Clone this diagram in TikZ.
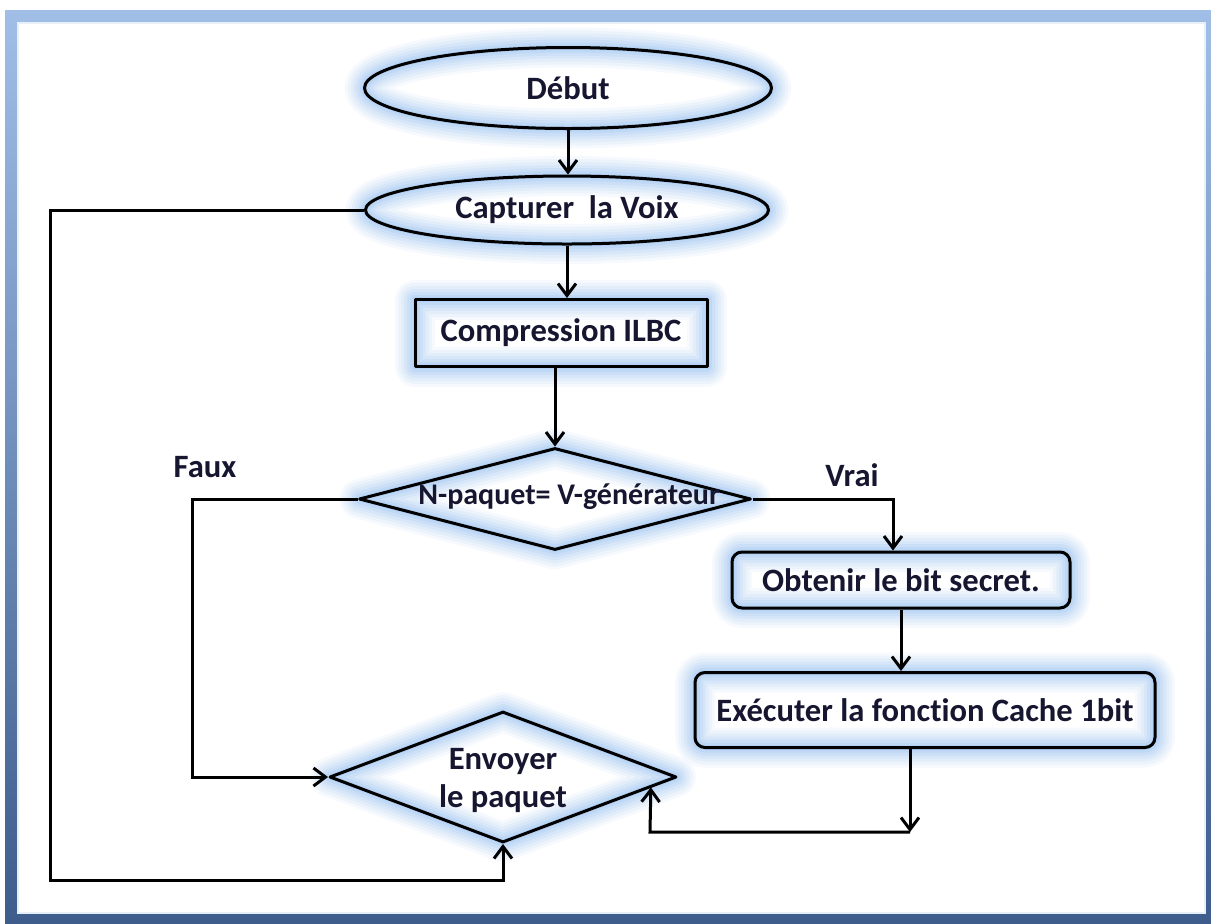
\documentclass[tikz,border=0pt]{standalone}
\usepackage{fontspec}
\setmainfont{Carlito}[Ligatures=NoCommon]
\usetikzlibrary{shapes.geometric,arrows.meta,calc}
\definecolor{glowc}{RGB}{128,180,240}
\definecolor{txtc}{RGB}{22,22,48}
\definecolor{frtop}{RGB}{160,190,230}
\definecolor{frbot}{RGB}{62,92,140}
\begin{document}
\begin{tikzpicture}[x=0.5pt,y=-0.5pt,
  glow/.style={line join=round,
    preaction={fill=white},
    preaction={draw=glowc,line width=20pt,opacity=0.07},
    preaction={draw=glowc,line width=17pt,opacity=0.08},
    preaction={draw=glowc,line width=14pt,opacity=0.09},
    preaction={draw=glowc,line width=11pt,opacity=0.11},
    preaction={draw=glowc,line width=8pt,opacity=0.13},
    preaction={draw=glowc,line width=5pt,opacity=0.15},
    preaction={draw=glowc,line width=2.5pt,opacity=0.18},
    draw=black,line width=1.5pt},
  txt/.style={text=txtc,font=\fontsize{16.3}{19}\selectfont\bfseries,inner sep=0pt},
  term/.style={ellipse,glow,txt},
  proc/.style={rectangle,glow,txt},
  rbox/.style={rectangle,rounded corners=5pt,glow,txt},
  decision/.style={diamond,glow,inner sep=0pt},
  conn/.style={line width=1.5pt,-{Straight Barb[length=6pt,width=9pt,line width=1.5pt]}}]
\useasboundingbox (0,0) rectangle (1211,923);
% frame
\fill[top color=frtop,bottom color=frbot] (5,10) rectangle (1211,923);
\fill[white] (18,23) rectangle (1205,913);
\draw[white!75!frtop,line width=0.6pt] (18,23) rectangle (1205,913);
% nodes
\node[term,minimum width=203.5pt,minimum height=40.5pt] (debut) at (568,88) {Début};
\node[term,minimum width=201.5pt,minimum height=34pt] (capt) at (567,210) {Capturer~~la Voix};
\node[proc,minimum width=146pt,minimum height=33.5pt] (comp) at (561,333) {Compression ILBC};
\node[decision,minimum width=196pt,minimum height=51pt] (d1) at (555,499) {};
\node[txt,font=\fontsize{15}{18}\selectfont\bfseries] (d1t) at (569,497) {N-paquet= V-générateur};
\node[rbox,minimum width=169pt,minimum height=28pt] (obt) at (901,580) {Obtenir le bit secret.};
\node[rbox,minimum width=230pt,minimum height=37.5pt] (exe) at (925,710) {Exécuter la fonction Cache 1bit};
\node[decision,minimum width=173.5pt,minimum height=65.5pt] (env) at (503,777) {};
\node[txt,align=center] (envt) at (503,780) {Envoyer\\le paquet};
\node[txt] (faux) at (205,467) {Faux};
\node[txt] (vrai) at (852,475) {Vrai};
% helper coordinates
\coordinate (fx) at (192,499);
\coordinate (vr) at (893,499);
\coordinate (c1) at (910,832);
\coordinate (c2) at (650,832);
\coordinate (l2) at (50,880);
% connectors
\draw[conn] (debut.south) -- (debut.south |- capt.north);
\draw[conn] (capt.south) -- (capt.south |- comp.north);
\draw[conn] (d1.north |- comp.south) -- (d1.north);
\draw[conn] (d1.west) -- (fx) |- (env.west);
\draw[conn] (d1.east) -- (vr) -- (vr |- obt.north);
\draw[conn] (obt.south) -- (obt.south |- exe.north);
\draw[conn] (c1 |- exe.south) -- (c1);
\draw[conn] (c1) -- (c2) -- ($(env.east)!0.155!(env.south)$);
\draw[conn] (capt.west) -| (l2) -| (env.south);
\end{tikzpicture}
\end{document}
